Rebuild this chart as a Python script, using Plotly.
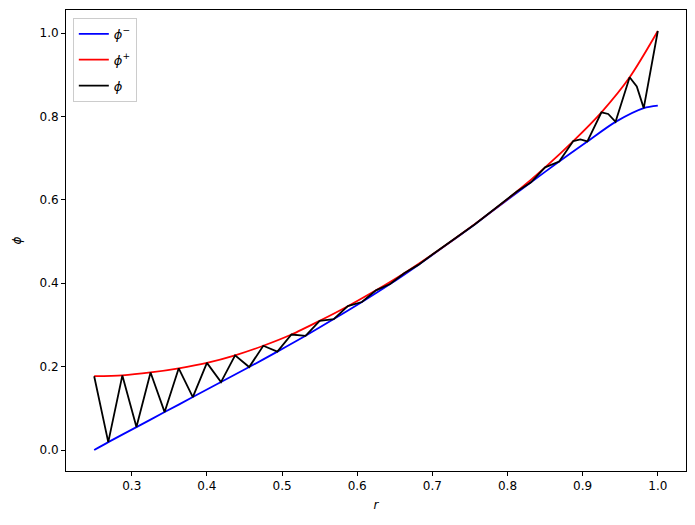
import plotly.graph_objects as go

# phi^- (lower bound)
r_minus = [0.25, 0.26875, 0.30625, 0.34375, 0.38125, 0.41875, 0.45625, 0.49375,
           0.53125, 0.56875, 0.60625, 0.64375, 0.68125, 0.71875, 0.75625,
           0.79375, 0.83125, 0.86875, 0.90625, 0.94375, 0.98125, 1.0]
phi_minus = [0.0, 0.019, 0.055, 0.091, 0.127, 0.163, 0.199, 0.236,
             0.274, 0.314, 0.355, 0.398, 0.444, 0.492, 0.541,
             0.592, 0.642, 0.692, 0.740, 0.787, 0.820, 0.826]

# phi^+ (upper bound)
r_plus = [0.25, 0.2875, 0.325, 0.3625, 0.4, 0.4375, 0.475, 0.5125, 0.55,
          0.5875, 0.625, 0.6625, 0.7, 0.7375, 0.775, 0.8125, 0.85, 0.8875,
          0.925, 0.9625, 1.0]
phi_plus = [0.177, 0.179, 0.186, 0.196, 0.209, 0.227, 0.250, 0.277, 0.310,
            0.345, 0.383, 0.424, 0.469, 0.517, 0.567, 0.620, 0.678, 0.741,
            0.810, 0.894, 1.005]

# phi (zig-zag)
r_phi = [0.25, 0.26875, 0.2875, 0.30625, 0.325, 0.34375, 0.3625, 0.38125, 0.4,
         0.41875, 0.4375, 0.45625, 0.475, 0.49375, 0.5125, 0.53125, 0.55,
         0.56875, 0.5875, 0.60625, 0.625, 0.64375, 0.6625, 0.68125, 0.7,
         0.71875, 0.7375, 0.75625, 0.775, 0.79375, 0.8125, 0.83125, 0.85,
         0.86875, 0.8875, 0.897, 0.90625, 0.925, 0.934, 0.94375, 0.9625,
         0.972, 0.98125, 1.0]
phi = [0.177, 0.019, 0.179, 0.055, 0.186, 0.091, 0.196, 0.127, 0.209,
       0.163, 0.227, 0.199, 0.250, 0.236, 0.277, 0.274, 0.310,
       0.314, 0.345, 0.355, 0.383, 0.398, 0.424, 0.444, 0.469,
       0.492, 0.517, 0.541, 0.567, 0.592, 0.620, 0.642, 0.678,
       0.692, 0.741, 0.745, 0.740, 0.810, 0.806, 0.787, 0.894,
       0.872, 0.820, 1.005]

x_ticks = [0.3, 0.4, 0.5, 0.6, 0.7, 0.8, 0.9, 1.0]
y_ticks = [0.0, 0.2, 0.4, 0.6, 0.8, 1.0]

fig = go.Figure()
fig.add_trace(go.Scatter(x=r_minus, y=phi_minus, mode="lines", legendgroup="a",
                         line=dict(color="#0000ff", width=1.8, shape="spline", smoothing=0.8),
                         name="<i>ϕ</i><sup>−</sup>"))
fig.add_trace(go.Scatter(x=r_plus, y=phi_plus, mode="lines", legendgroup="b",
                         line=dict(color="#ff0000", width=1.8, shape="spline", smoothing=0.8),
                         name="<i>ϕ</i><sup>+</sup>"))
fig.add_trace(go.Scatter(x=r_phi, y=phi, mode="lines", legendgroup="c",
                         line=dict(color="#000000", width=1.8),
                         name="<i>ϕ</i>"))

axis_common = dict(showgrid=False, zeroline=False, showline=True, linecolor="black",
                   linewidth=1, mirror=True, ticks="outside", ticklen=4, tickwidth=1,
                   tickcolor="black", tickfont=dict(family="DejaVu Sans", size=12, color="black"))

fig.update_xaxes(range=[0.2125, 1.0375], tickvals=x_ticks,
                 ticktext=[f"{v:.1f}" for v in x_ticks],
                 title=dict(text="<i>r</i>", font=dict(family="DejaVu Sans", size=12, color="black"),
                            standoff=8),
                 **axis_common)
fig.update_yaxes(range=[-0.0503, 1.0553], tickvals=y_ticks,
                 ticktext=[f"{v:.1f}" for v in y_ticks],
                 title=dict(text="<i>ϕ</i>", font=dict(family="DejaVu Sans", size=12, color="black"),
                            standoff=15),
                 **axis_common)

fig.update_layout(
    width=695, height=525,
    margin=dict(l=58, r=17, t=2, b=62),
    plot_bgcolor="white", paper_bgcolor="white",
    font=dict(family="DejaVu Sans", size=12, color="black"),
    showlegend=True,
    legend=dict(x=0.011, y=0.983, xanchor="left", yanchor="top",
                bgcolor="rgba(255,255,255,0.8)", bordercolor="#cccccc", borderwidth=1,
                font=dict(family="DejaVu Sans", size=13, color="black"),
                itemwidth=30, tracegroupgap=6),
)

fig.write_html("out.html")
